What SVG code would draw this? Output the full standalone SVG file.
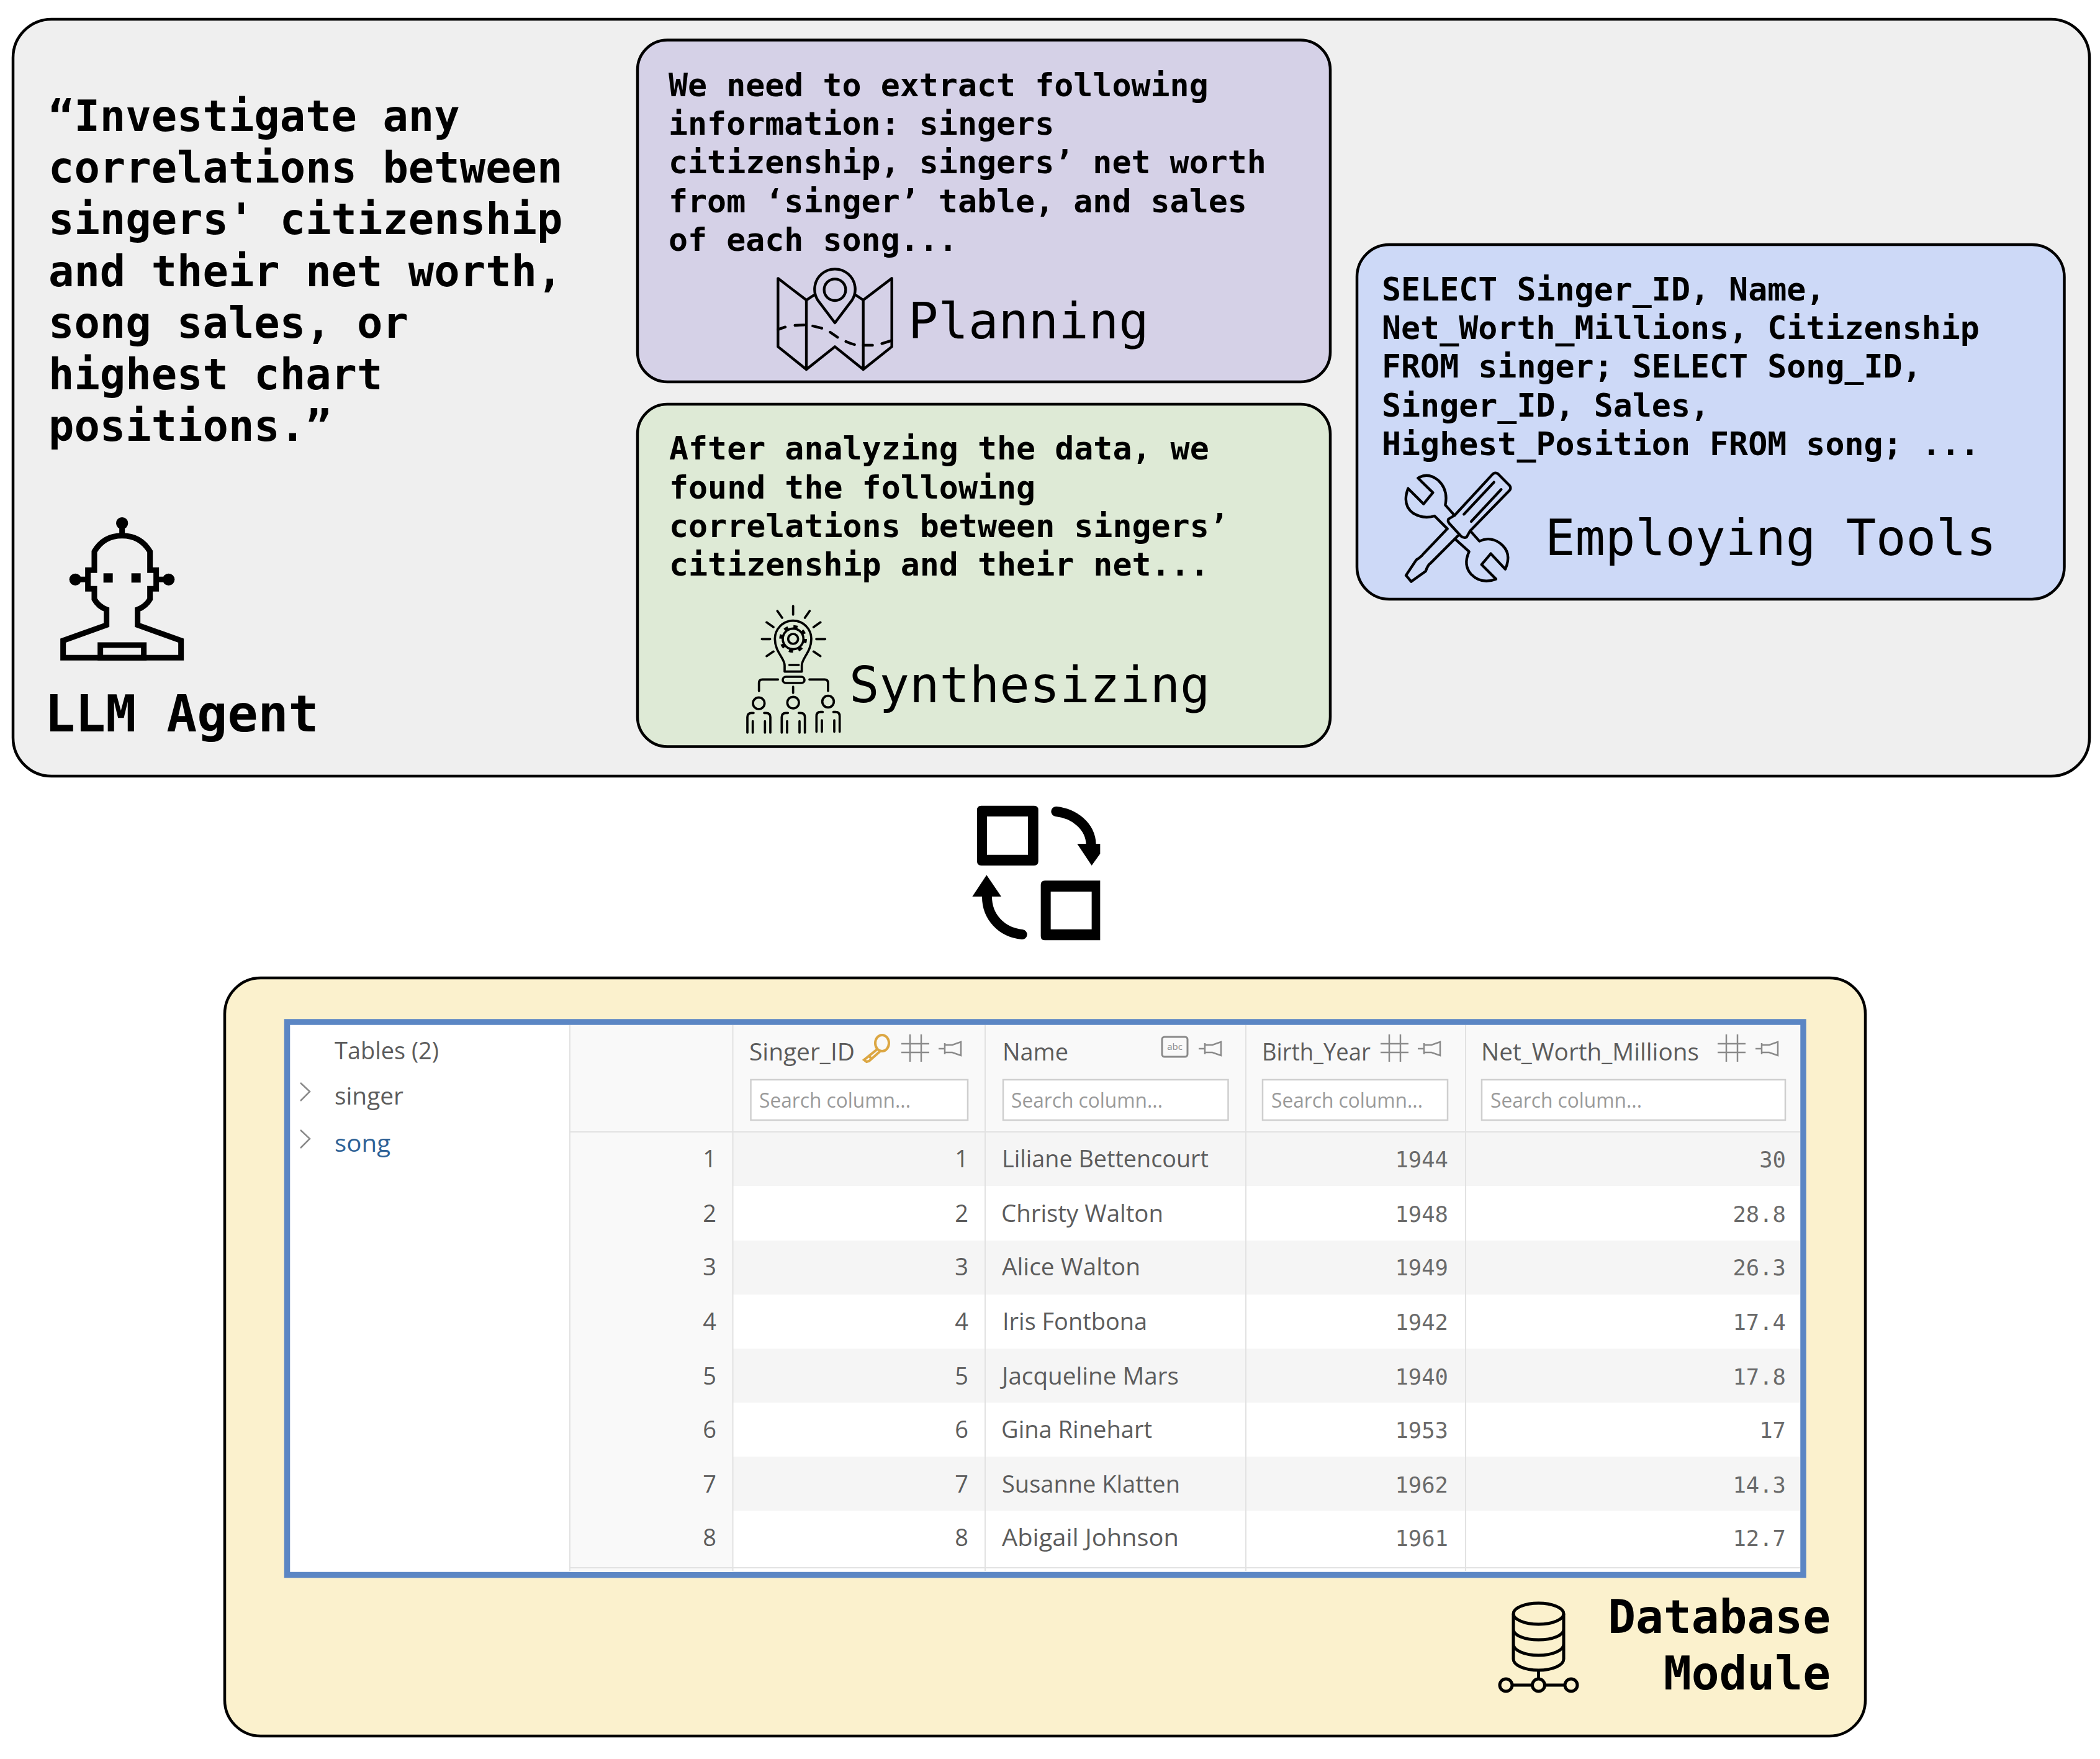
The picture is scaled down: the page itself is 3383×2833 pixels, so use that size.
<svg xmlns="http://www.w3.org/2000/svg" xmlns:xlink="http://www.w3.org/1999/xlink" width="3383" height="2833" viewBox="0 0 3383 2833">
<style>
.box{stroke:#000;stroke-width:4.5}
.mono{font-family:"DejaVu Sans Mono","Liberation Mono",monospace;fill:#000}
.b{font-weight:700}
.q{font-size:68.8px}
.t{font-size:51.6px}
.lab{font-size:80.5px}
.ic{fill:none;stroke:#000;stroke-linecap:round;stroke-linejoin:round}
.ui{font-family:"Open Sans","Noto Sans",sans-serif;fill:#5c5c5c;font-size:38px}
.ph{font-family:"Open Sans","Noto Sans",sans-serif;fill:#9a9a9a;font-size:32px}
.num{font-family:"DejaVu Sans Mono","Liberation Mono",monospace;fill:#6a6a6a;font-size:35.5px;text-anchor:end}
.end{text-anchor:end}
.div{stroke:#e2e2e2;stroke-width:2}
.sb{fill:#fff;stroke:#cfcfcf;stroke-width:2.5}
.g{fill:none;stroke:#8a8a8a;stroke-width:2.5}
</style>
<defs>
<g id="hash" class="g"><path d="M14 0V44M32 0V44M0 15H45M0 29H45"/></g>
<g id="pin" class="g"><path d="M0 12H10M10 3V21M10 6H22L36 1V23L22 18H10"/></g>
</defs>
<rect width="3383" height="2833" fill="#fff"/>

<g id="agent">
<rect class="box" x="21" y="31" width="3345" height="1219" rx="62" ry="62" fill="#efefef"/>
<g class="mono b q">
<text x="78" y="210.5">“Investigate any</text>
<text x="78" y="294">correlations between</text>
<text x="78" y="377">singers' citizenship</text>
<text x="78" y="460.5">and their net worth,</text>
<text x="78" y="543.5">song sales, or</text>
<text x="78" y="627">highest chart</text>
<text x="78" y="710">positions.”</text>
</g>
<g transform="translate(60 810) scale(.3333)">
<path class="ic" stroke-width="27" style="stroke-linecap:butt;stroke-linejoin:miter" d="M276 235Q320 158 410 158Q500 158 545 235V325H575V415H545V465Q525 500 485 515V590L695 665V748H125V665L335 590V515Q295 500 276 465V415H245V325H276Z"/>
<rect x="305" y="687" width="210" height="61" fill="none" stroke="#000" stroke-width="27"/>
<rect x="320" y="340" width="45" height="45"/><rect x="455" y="340" width="45" height="45"/>
<circle cx="410" cy="98" r="29"/><circle cx="184" cy="370" r="29"/><circle cx="635" cy="370" r="29"/>
<path d="M410 98V158M184 370H245M575 370H635" stroke="#000" stroke-width="27" fill="none"/>
</g>
<text class="mono b" style="font-size:81.5px" x="72" y="1178">LLM Agent</text>
</g>

<g id="planning">
<rect class="box" x="1027" y="64.5" width="1116" height="550.5" rx="48" fill="#d5d1e7"/>
<g class="mono b t">
<text x="1077" y="155">We need to extract following</text>
<text x="1077" y="217">information: singers</text>
<text x="1077" y="279">citizenship, singers’ net worth</text>
<text x="1077" y="341.5">from ‘singer’ table, and sales</text>
<text x="1077" y="403.5">of each song...</text>
</g>
<g transform="translate(1230 420) scale(.3333)" class="ic" stroke-width="13">
<path d="M445 165L482 190L620 85V415L482 525L345 415L207 525L70 415V85L207 190L245 165M207 190V525M482 190V525"/>
<path d="M345 300L262 190A98 98 0 1 1 428 190Z"/>
<circle cx="345" cy="140" r="52"/>
<path d="M70 332L105 320M152 312Q175 310 197 310M238 315L282 326M322 345L358 370M398 390Q420 400 440 405M482 408H527M572 400L620 385"/>
</g>
<text class="mono lab" x="1463" y="545">Planning</text>
</g>

<g id="synthesizing">
<rect class="box" x="1027" y="651" width="1116" height="551.5" rx="48" fill="#deead6"/>
<g class="mono b t">
<text x="1078" y="740">After analyzing the data, we</text>
<text x="1078" y="802.5">found the following</text>
<text x="1078" y="865">correlations between singers’</text>
<text x="1078" y="926.5">citizenship and their net...</text>
</g>
<g transform="translate(1190 960) scale(.3333)" class="ic" stroke-width="11">
<path d="M263 48V90M187 72L210 105M343 72L320 105M135 127L168 150M395 127L362 150M112 208H152M375 208H418M135 290L168 268M395 290L362 268"/>
<path d="M222 365V335C222 300 175 270 175 207A88 88 0 1 1 351 207C351 270 305 300 305 335V365Z"/>
<path d="M245 333H290"/>
<circle cx="263" cy="207" r="24"/>
<circle cx="263" cy="207" r="50"/>
<circle cx="263" cy="207" r="60" stroke-dasharray="20 27.1" stroke-width="14" style="stroke-linecap:butt"/>
<rect x="213" y="390" width="105" height="30" rx="15"/>
<path d="M98 458V420Q98 403 115 403H190M342 403H415Q432 403 432 420V458M263 438V468"/>
<circle cx="97" cy="518" r="28"/><circle cx="263" cy="515" r="28"/><circle cx="432" cy="510" r="28"/>
<path d="M42 660V585Q42 565 62 565H72M153 660V585Q153 565 133 565H123M68 605V660M127 605V660"/>
<path d="M208 660V585Q208 565 228 565H238M320 660V585Q320 565 300 565H290M234 605V660M294 605V660"/>
<path d="M376 655V580Q376 560 396 560H406M488 655V580Q488 560 468 560H458M402 600V655M462 600V655"/>
</g>
<text class="mono lab" x="1368" y="1131">Synthesizing</text>
</g>

<g id="tools">
<rect class="box" x="2186" y="394" width="1139.5" height="571" rx="52" fill="#cdd9f7"/>
<g class="mono b t">
<text x="2226" y="483.5">SELECT Singer_ID, Name,</text>
<text x="2226" y="546">Net_Worth_Millions, Citizenship</text>
<text x="2226" y="608">FROM singer; SELECT Song_ID,</text>
<text x="2226" y="670.5">Singer_ID, Sales,</text>
<text x="2226" y="732.5">Highest_Position FROM song; ...</text>
</g>
<g transform="translate(2240 750) scale(.3333)" class="ic" stroke-width="13">
<path d="M310 240L495 40Q507 30 520 40L575 95Q585 108 575 120L385 315"/>
<path d="M310 240L280 258Q275 268 285 280L340 340Q355 352 368 345L385 315"/>
<path d="M270 310L160 425Q150 440 125 455L75 530L100 560L170 510Q180 480 195 470L325 340"/>
<path d="M355 235L500 80M390 270L535 115"/>
<path d="M305 235L265 190Q280 115 230 70Q180 30 133 60L205 130L160 185L85 110Q55 190 110 230Q160 260 213 243L275 305"/>
<path d="M318 360L380 415Q350 480 390 525Q440 575 510 548L440 478L485 425L555 500Q590 420 530 375Q480 340 430 365L390 320"/>
</g>
<text class="mono lab" x="2489" y="894">Employing Tools</text>
</g>

<g id="connectors">
<g id="exchange" transform="translate(1500 1260) scale(.3333)">
<path fill-rule="evenodd" d="M242 113H498Q518 113 518 133V382Q518 402 498 402H242Q222 402 222 382V133Q222 113 242 113ZM270 165V350H468V165Z"/>
<path fill-rule="evenodd" d="M550 475H817V763H550Q530 763 530 743V495Q530 475 550 475ZM578 528V710H776V528Z"/>
<path d="M604 141C690 150 770 210 773 300M440 735C340 725 270 650 270 552" fill="none" stroke="#000" stroke-width="48" stroke-linecap="round"/>
<path d="M706 297H817V345L776 402ZM268 448L339 552H199Z"/>
</g>
</g>

<g id="database">
<rect class="box" x="362" y="1575" width="2643" height="1221" rx="58" fill="#fbf1cd"/>
<g id="table">
<rect x="462.5" y="1646" width="2442.5" height="890.5" fill="#fff" stroke="#5b86c4" stroke-width="9.5"/>
<rect x="918" y="1651" width="262" height="881" fill="#f9f9f9"/>
<rect x="1180" y="1651" width="1720" height="172" fill="#f9f9f9"/>
<g fill="#f5f5f5">
<rect x="1180" y="1824" width="1720" height="86"/>
<rect x="1180" y="1998" width="1720" height="87"/>
<rect x="1180" y="2172" width="1720" height="87"/>
<rect x="1180" y="2346" width="1720" height="87"/>
</g>
<path class="div" d="M918 1651V2530M1180.5 1651V2530M1587 1651V2530M2007 1651V2530M2361 1651V2530M918 1823H2900M918 2525H2900"/>
<text class="ui" x="539" y="1706" textLength="168" lengthAdjust="spacingAndGlyphs">Tables (2)</text>
<text class="ui" x="539" y="1779" textLength="111" lengthAdjust="spacingAndGlyphs">singer</text>
<text class="ui" x="539" y="1855" textLength="90" lengthAdjust="spacingAndGlyphs" style="fill:#2f6296">song</text>
<path class="g" d="M484 1744L499 1758L484 1773M484 1820L499 1834L484 1849"/>
<text class="ui" x="1207" y="1708" textLength="170" lengthAdjust="spacingAndGlyphs">Singer_ID</text>
<text class="ui" x="1615" y="1708" textLength="106" lengthAdjust="spacingAndGlyphs">Name</text>
<text class="ui" x="2033" y="1708" textLength="175" lengthAdjust="spacingAndGlyphs">Birth_Year</text>
<text class="ui" x="2386" y="1708" textLength="351" lengthAdjust="spacingAndGlyphs">Net_Worth_Millions</text>
<g fill="none" stroke="#dca743" stroke-width="4"><ellipse cx="1421" cy="1680" rx="11" ry="13"/><path d="M1413 1690L1392 1707L1396 1710L1400 1709L1418 1693M1400 1701L1405 1706"/></g>
<use xlink:href="#hash" href="#hash" x="1452" y="1666"/>
<use xlink:href="#hash" href="#hash" x="2224" y="1666"/>
<use xlink:href="#hash" href="#hash" x="2767" y="1666"/>
<use xlink:href="#pin" href="#pin" x="1512" y="1677"/>
<use xlink:href="#pin" href="#pin" x="1931" y="1677"/>
<use xlink:href="#pin" href="#pin" x="2284" y="1677"/>
<use xlink:href="#pin" href="#pin" x="2828" y="1677"/>
<rect x="1872" y="1670" width="41" height="32" rx="4" fill="none" stroke="#8a8a8a" stroke-width="3"/>
<text x="1892.5" y="1691" font-size="15" text-anchor="middle" font-family="'Open Sans',sans-serif" fill="#8a8a8a">abc</text>
<rect class="sb" x="1209.5" y="1739" width="349.5" height="65"/>
<rect class="sb" x="1616" y="1739" width="362.5" height="65"/>
<rect class="sb" x="2034" y="1739" width="298" height="65"/>
<rect class="sb" x="2387" y="1739" width="489" height="65"/>
<text class="ph" x="1223" y="1784" textLength="244" lengthAdjust="spacingAndGlyphs">Search column...</text>
<text class="ph" x="1629" y="1784" textLength="244" lengthAdjust="spacingAndGlyphs">Search column...</text>
<text class="ph" x="2048" y="1784" textLength="244" lengthAdjust="spacingAndGlyphs">Search column...</text>
<text class="ph" x="2401" y="1784" textLength="244" lengthAdjust="spacingAndGlyphs">Search column...</text>
<g class="ui end">
<text x="1154" y="1880">1</text><text x="1154" y="1967.5">2</text><text x="1154" y="2054">3</text><text x="1154" y="2141.5">4</text><text x="1154" y="2230">5</text><text x="1154" y="2316">6</text><text x="1154" y="2404">7</text><text x="1154" y="2490">8</text>
<text x="1560" y="1880">1</text><text x="1560" y="1967.5">2</text><text x="1560" y="2054">3</text><text x="1560" y="2141.5">4</text><text x="1560" y="2230">5</text><text x="1560" y="2316">6</text><text x="1560" y="2404">7</text><text x="1560" y="2490">8</text>
</g>
<g class="ui">
<text x="1614" y="1880" textLength="333" lengthAdjust="spacingAndGlyphs">Liliane Bettencourt</text>
<text x="1613" y="1967.5" textLength="261" lengthAdjust="spacingAndGlyphs">Christy Walton</text>
<text x="1614" y="2054" textLength="223" lengthAdjust="spacingAndGlyphs">Alice Walton</text>
<text x="1615" y="2141.5" textLength="233" lengthAdjust="spacingAndGlyphs">Iris Fontbona</text>
<text x="1614" y="2230" textLength="285" lengthAdjust="spacingAndGlyphs">Jacqueline Mars</text>
<text x="1613" y="2316" textLength="243" lengthAdjust="spacingAndGlyphs">Gina Rinehart</text>
<text x="1614" y="2404" textLength="287" lengthAdjust="spacingAndGlyphs">Susanne Klatten</text>
<text x="1614" y="2490" textLength="285" lengthAdjust="spacingAndGlyphs">Abigail Johnson</text>
</g>
<g class="num">
<text x="2333" y="1880">1944</text><text x="2333" y="1967.5">1948</text><text x="2333" y="2054">1949</text><text x="2333" y="2141.5">1942</text><text x="2333" y="2230">1940</text><text x="2333" y="2316">1953</text><text x="2333" y="2404">1962</text><text x="2333" y="2490">1961</text>
<text x="2877" y="1880">30</text><text x="2877" y="1967.5">28.8</text><text x="2877" y="2054">26.3</text><text x="2877" y="2141.5">17.4</text><text x="2877" y="2230">17.8</text><text x="2877" y="2316">17</text><text x="2877" y="2404">14.3</text><text x="2877" y="2490">12.7</text>
</g>
</g>
<g fill="none" stroke="#000" stroke-width="5">
<ellipse cx="2478.5" cy="2599" rx="40.5" ry="17"/>
<path d="M2438 2599V2672C2438 2682 2456 2690 2478.5 2690C2501 2690 2519 2682 2519 2672V2599M2438 2624C2438 2634 2456 2641 2478.5 2641C2501 2641 2519 2634 2519 2624M2438 2648C2438 2658 2456 2666 2478.5 2666C2501 2666 2519 2658 2519 2648M2478.5 2690V2703M2436 2714H2469M2488 2714H2521"/>
<circle cx="2426" cy="2714" r="10"/><circle cx="2478.5" cy="2714" r="10"/><circle cx="2531" cy="2714" r="10"/>
</g>
<g class="mono b end" style="font-size:74.5px">
<text x="2949" y="2630">Database</text>
<text x="2949" y="2721">Module</text>
</g>
</g>
</svg>
